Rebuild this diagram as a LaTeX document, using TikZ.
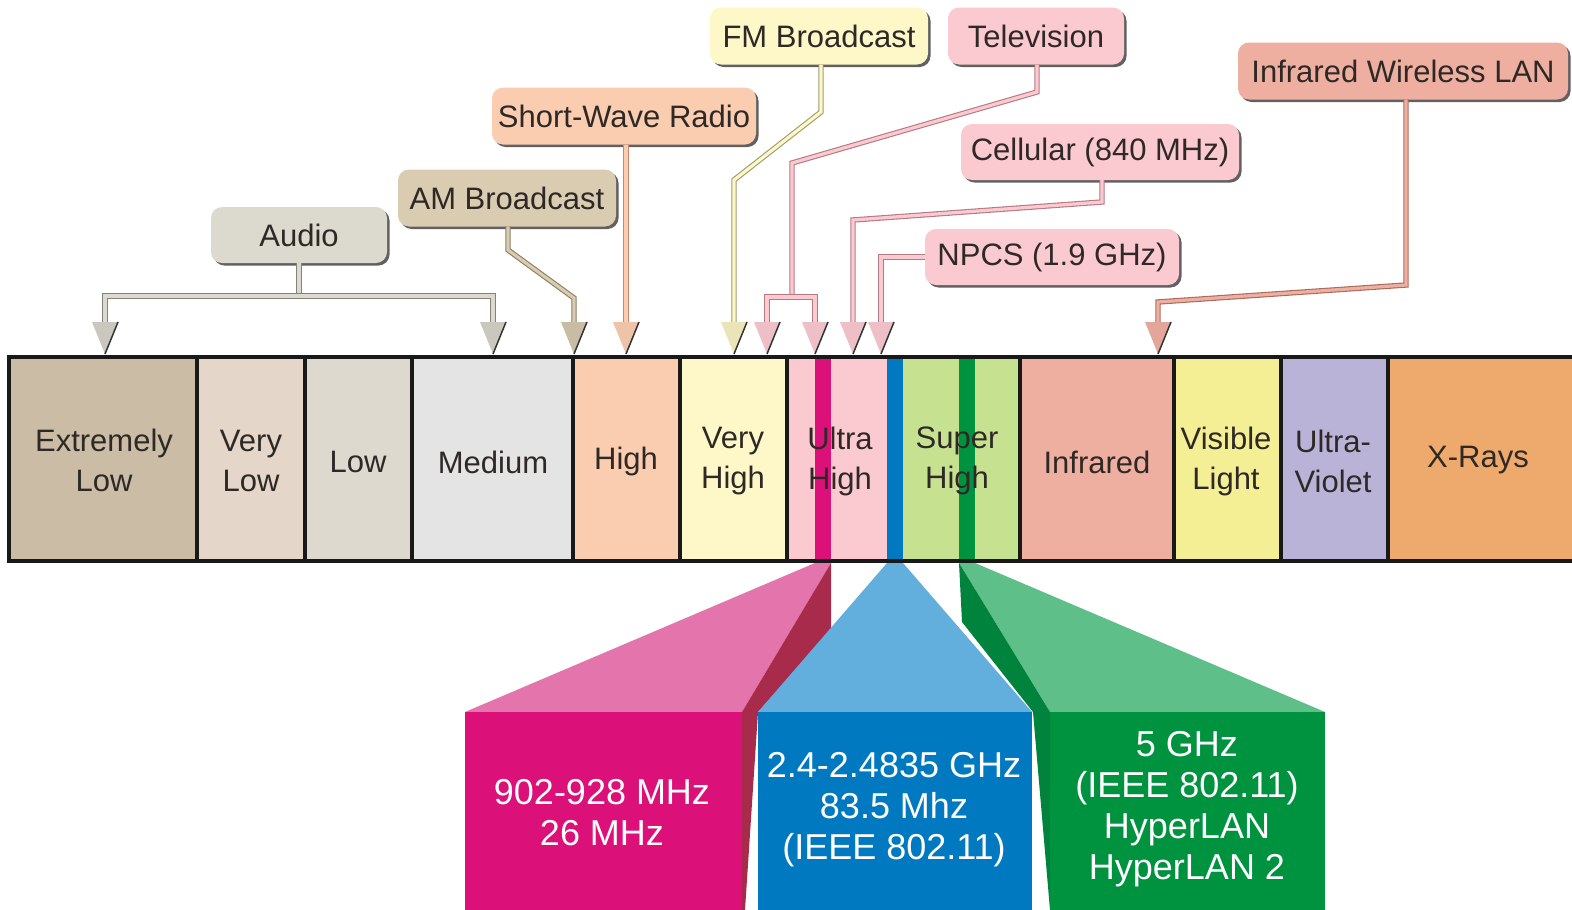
\documentclass[tikz,border=0pt]{standalone}
\usepackage{fontspec}
\setmainfont{Liberation Sans}
\usetikzlibrary{shadows}
\definecolor{txt}{HTML}{2E2926}
\definecolor{cEL}{HTML}{CBBDA5}
\definecolor{cVL}{HTML}{E4D6C8}
\definecolor{cLo}{HTML}{DDD9CE}
\definecolor{cMe}{HTML}{E4E4E4}
\definecolor{cHi}{HTML}{FBCDB0}
\definecolor{cVH}{HTML}{FEF8C8}
\definecolor{cUH}{HTML}{FBC9D0}
\definecolor{cSH}{HTML}{C6E190}
\definecolor{cIR}{HTML}{EFAFA0}
\definecolor{cVis}{HTML}{F4EE95}
\definecolor{cUV}{HTML}{B9B3D7}
\definecolor{cXR}{HTML}{EEAA6C}
\definecolor{cAud}{HTML}{DCD9CE}
\definecolor{cAM}{HTML}{D9CCB1}
\definecolor{oAud}{HTML}{85827A}
\definecolor{oAM}{HTML}{8A7D64}
\definecolor{oSW}{HTML}{C4886A}
\definecolor{oFM}{HTML}{9E9A72}
\definecolor{oTV}{HTML}{B47A84}
\definecolor{oIR}{HTML}{A86A5C}
\definecolor{mag}{HTML}{DC1079}
\definecolor{magtop}{HTML}{E474AC}
\definecolor{magside}{HTML}{A82B4C}
\definecolor{blu}{HTML}{0079C0}
\definecolor{blutop}{HTML}{62AEDC}
\definecolor{grn}{HTML}{00933F}
\definecolor{grntop}{HTML}{5EBF89}
\definecolor{grnside}{HTML}{00843D}
\begin{document}
\begin{tikzpicture}[x=1pt,y=-1pt,
  box/.style={rounded corners=11pt, fill=#1, text=txt, inner sep=0pt,
    font=\fontsize{31}{38}\selectfont,
    drop shadow={shadow xshift=2.5pt, shadow yshift=-2.5pt, fill=black!62, opacity=1}},
  seclabel/.style={text=txt, align=center, inner sep=0pt, font=\fontsize{31}{40}\selectfont},
  bandlabel/.style={text=white, align=center, inner sep=0pt, font=\fontsize{36}{41}\selectfont},
  conn/.style={line width=1.1pt, double distance=3.2pt, line join=miter, draw=#1},
  ahead/.pic={\fill[pic actions] (-13,0) -- (13,0) -- (0,32) -- cycle;
              \draw[line width=1.5pt, black!80] (13,0) -- (0,32);}
]
\useasboundingbox (0,0) rectangle (1572,910);
\fill[white] (0,0) rectangle (1572,910);

% ---------- spectrum bar ----------
\fill[cEL] (9,357) rectangle (197,561);
\fill[cVL] (197,357) rectangle (305,561);
\fill[cLo] (305,357) rectangle (412,561);
\fill[cMe] (412,357) rectangle (573,561);
\fill[cHi] (573,357) rectangle (680,561);
\fill[cVH] (680,357) rectangle (787,561);
\fill[cUH] (787,357) rectangle (887,561);
\fill[cSH] (903,357) rectangle (1020,561);
\fill[cIR] (1020,357) rectangle (1174,561);
\fill[cVis] (1174,357) rectangle (1281,561);
\fill[cUV] (1281,357) rectangle (1388,561);
\fill[cXR] (1388,357) rectangle (1580,561);
% stripes
\fill[mag] (815,357) rectangle (831,561);
\fill[blu] (887,357) rectangle (903,561);
\fill[grn] (959,357) rectangle (975,561);
% dividers
\foreach \xx in {197,305,412,573,680,787,1020,1174,1281,1388}
  \draw[line width=3.5pt, black!90] (\xx,357) -- (\xx,561);
\draw[line width=4pt, black!90] (9,357) rectangle (1590,561);

% section labels
\node[seclabel] (sEL) at (104,460) {Extremely\\Low};
\node[seclabel] (sVL) at (251,461) {Very\\Low};
\node[seclabel] (sLo) at (358,462) {Low};
\node[seclabel] (sMe) at (493,462) {Medium};
\node[seclabel] (sHi) at (626,461) {High};
\node[seclabel] (sVH) at (733,461) {Very\\High};
\node[seclabel] (sUH) at (840,461) {Ultra\\High};
\node[seclabel] (sSH) at (957,461) {Super\\High};
\node[seclabel] (sIR) at (1097,462) {Infrared};
\node[seclabel] (sVis) at (1226,461) {Visible\\Light};
\node[seclabel] (sUV) at (1333,461) {Ultra-\\Violet};
\node[seclabel] (sXR) at (1478,460) {X-Rays};

% ---------- zoomed bands ----------
\fill[magtop] (815,563) -- (831,563) -- (742,712) -- (465,712) -- cycle;
\fill[magside] (831,563) -- (831,630) -- (758,712) -- (745,910) -- (742,910) -- (742,712) -- cycle;
\fill[mag] (465,712) rectangle (742,910);
\fill[blutop] (887,563) -- (903,563) -- (1032,712) -- (758,712) -- cycle;
\fill[blu] (758,712) rectangle (1032,910);
\fill[grntop] (959,563) -- (975,563) -- (1325,712) -- (1050,712) -- cycle;
\fill[grnside] (959,563) -- (962,622) -- (1033,712) -- (1050,910) -- (1050,712) -- cycle;
\fill[grn] (1050,712) rectangle (1325,910);

\node[bandlabel] (b900) at (602,813) {902-928 MHz\\26 MHz};
\node[bandlabel] (b24) at (894,810) {2.4-2.4835 GHz\\83.5 Mhz\\(IEEE 802.11)};
\node[bandlabel] (b5) at (1187,809) {5 GHz\\(IEEE 802.11)\\HyperLAN\\HyperLAN 2};

% ---------- callout boxes ----------
\node[box=cAud, minimum width=176pt, minimum height=56pt] (audio) at (299,235) {Audio};
\node[box=cAM, minimum width=218pt, minimum height=57pt] (am) at (507,198) {AM Broadcast};
\node[box=cHi, minimum width=264pt, minimum height=57pt] (sw) at (624,116) {Short-Wave Radio};
\node[box=cVH, minimum width=218pt, minimum height=57pt] (fm) at (819,36) {FM Broadcast};
\node[box=cUH, minimum width=176pt, minimum height=57pt] (tv) at (1036,36) {Television};
\node[box=cUH, minimum width=278pt, minimum height=56pt] (cell) at (1100,152) {Cellular (840 MHz)};
\node[box=cUH, minimum width=254pt, minimum height=56pt] (npcs) at (1052,257) {NPCS (1.9 GHz)};
\node[box=cIR, minimum width=330pt, minimum height=57pt] (irlan) at (1403,71) {Infrared Wireless LAN};

% arrow bases (arrow tips sit on the bar)
\coordinate (aA1) at (105,322);
\coordinate (aA2) at (493,322);
\coordinate (aAM) at (574,322);
\coordinate (aSW) at (626,322);
\coordinate (aFM) at (734,322);
\coordinate (aTV1) at (767,322);
\coordinate (aTV2) at (815,322);
\coordinate (aCE) at (853,322);
\coordinate (aNP) at (881,322);
\coordinate (aIR) at (1158,322);

% ---------- connectors ----------
\draw[conn=oAud, double=cAud] (audio.south) -- (299,296);
\draw[conn=oAud, double=cAud] (aA1) -- (105,296) -- (493,296) -- (aA2);
\draw[conn=oAM, double=cAM] (am.south -| 508,0) -- (508,250) -- (574,298) -- (aAM);
\draw[conn=oSW, double=cHi] (sw.south -| aSW) -- (aSW);
\draw[conn=oFM, double=cVH] (fm.south -| 821,0) -- (821,112) -- (734,180) -- (aFM);
\draw[conn=oTV, double=cUH] (tv.south -| 1037,0) -- (1037,92) -- (792,163) -- (792,297);
\draw[conn=oTV, double=cUH] (aTV1) -- (767,297) -- (815,297) -- (aTV2);
\draw[conn=oTV, double=cUH] (cell.south -| 1102,0) -- (1102,202) -- (853,220) -- (aCE);
\draw[conn=oTV, double=cUH] (npcs.west) -- (881,257) -- (aNP);
\draw[conn=oIR, double=cIR] (irlan.south -| 1406,0) -- (1406,285) -- (1158,302) -- (aIR);

% arrowheads
\pic[fill=cAud!92!black] at (aA1) {ahead};
\pic[fill=cAud!92!black] at (aA2) {ahead};
\pic[fill=cAM!92!black] at (aAM) {ahead};
\pic[fill=cHi!95!black] at (aSW) {ahead};
\pic[fill=cVH!92!black] at (aFM) {ahead};
\pic[fill=cUH!95!black] at (aTV1) {ahead};
\pic[fill=cUH!95!black] at (aTV2) {ahead};
\pic[fill=cUH!95!black] at (aCE) {ahead};
\pic[fill=cUH!95!black] at (aNP) {ahead};
\pic[fill=cIR!95!black] at (aIR) {ahead};
\end{tikzpicture}
\end{document}
